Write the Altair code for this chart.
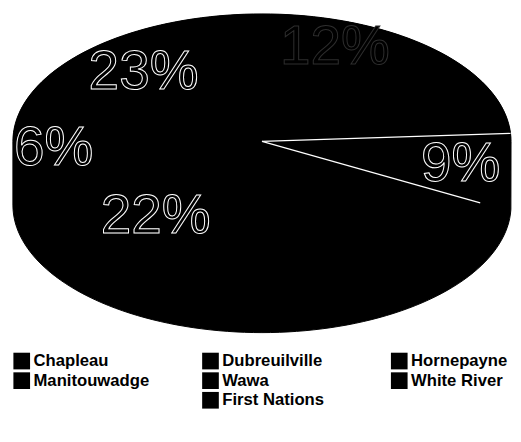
import altair as alt
import pandas as pd

# ---- data ----
categories = ["Chapleau", "Dubreuilville", "Hornepayne", "Manitouwadge",
              "Wawa", "White River", "First Nations"]
percents = [12, 12, 9, 16, 22, 6, 23]

# ---- styles ----
SLICE_COLORS = ["#000000"] * 7
LABEL_OUTLINE = ["#2e2e2e", "#000000", "#ffffff", "#000000", "#ffffff", "#ffffff", "#ffffff"]
HIDDEN_LABELS = ["Dubreuilville", "Manitouwadge"]  # black-on-black in the scan
DEPTH = 0.5  # 3D depth of the pie in y-units

df = pd.DataFrame({"cat": categories, "pct": percents, "idx": list(range(len(categories)))})

xs = alt.Scale(domain=[-1, 1], nice=False, zero=False)
ys = alt.Scale(domain=[-1 - DEPTH, 1], nice=False, zero=False)
color = alt.Color("cat:N", scale=alt.Scale(domain=categories, range=SLICE_COLORS), legend=None)

base = (
    alt.Chart(df)
    .transform_window(cum="sum(pct)", sort=[alt.SortField("idx")], frame=[None, 0])
    .transform_calculate(
        start="(datum.cum - datum.pct) / 100 * 2 * PI",
        end="datum.cum / 100 * 2 * PI",
    )
)

# silhouette of the 3D pie (top face + side depth)
silhouette = (
    alt.Chart(alt.sequence(-90, 272, 2, as_="t"))
    .transform_calculate(
        tr="datum.t * PI / 180",
        x="sin(datum.tr)",
        y=f"datum.t <= 90 ? cos(datum.tr) : cos(datum.tr) - {DEPTH}",
    )
    .mark_line(interpolate="linear-closed", fill="black", stroke="black", strokeWidth=1)
    .encode(
        x=alt.X("x:Q", scale=xs, axis=None),
        y=alt.Y("y:Q", scale=ys, axis=None),
        order="t:Q",
    )
)

slices = (
    base.transform_calculate(pts="sequence(0, 42)")
    .transform_flatten(["pts"])
    .transform_calculate(
        a="datum.start + (datum.end - datum.start) * min(datum.pts, 40) / 40",
        x="datum.pts > 40 ? 0 : sin(datum.a)",
        y="datum.pts > 40 ? 0 : cos(datum.a)",
    )
    .mark_line(interpolate="linear-closed", filled=True, strokeWidth=0)
    .encode(
        x=alt.X("x:Q", scale=xs, axis=None),
        y=alt.Y("y:Q", scale=ys, axis=None),
        detail="cat:N",
        order="pts:Q",
        color=color,
    )
)

edges = (
    base.transform_filter(alt.datum.cat == "Hornepayne")
    .transform_fold(["start", "end"], as_=["edge", "ang"])
    .transform_calculate(ex="sin(datum.ang)", ey="cos(datum.ang)", zero="0")
    .mark_rule(color="white", strokeWidth=1.2)
    .encode(
        x=alt.X("zero:Q", scale=xs, axis=None),
        y=alt.Y("zero:Q", scale=ys, axis=None),
        x2="ex:Q",
        y2="ey:Q",
    )
)

labels = (
    base.transform_calculate(
        m="(datum.start + datum.end) / 2",
        r="0.88 - 0.007 * datum.pct",
        lx="datum.r * sin(datum.m)",
        ly="datum.r * cos(datum.m)",
        lab="datum.pct + '%'",
    )
    .mark_text(font="Liberation Sans", fontSize=56, fill="black", strokeWidth=1,
               align="center", baseline="middle")
    .encode(
        x=alt.X("lx:Q", scale=xs, axis=None),
        y=alt.Y("ly:Q", scale=ys, axis=None),
        text="lab:N",
        stroke=alt.Stroke("cat:N", scale=alt.Scale(domain=categories, range=LABEL_OUTLINE), legend=None),
        opacity=alt.condition(
            alt.FieldOneOfPredicate(field="cat", oneOf=HIDDEN_LABELS),
            alt.value(0), alt.value(1)),
    )
)

pie = alt.layer(silhouette, slices, edges, labels).properties(width=508, height=325)

# custom legend (3 columns, last row centred)
leg_base = alt.Chart(df).transform_calculate(
    col="datum.idx >= 6 ? 1 : datum.idx % 3",
    row="floor(datum.idx / 3)",
)
lx = alt.Scale(domain=[-9 / 192.5, (508 - 9) / 192.5], nice=False, zero=False)
ly = alt.Scale(domain=[-1, 2.6], nice=False, zero=False, reverse=True)

squares = leg_base.mark_square(size=289, opacity=1).encode(
    x=alt.X("col:Q", scale=lx, axis=None),
    y=alt.Y("row:Q", scale=ly, axis=None),
    color=color,
)
names = leg_base.mark_text(align="left", baseline="middle", dx=12, font="Liberation Sans",
                           fontSize=17, fontWeight="bold", color="black").encode(
    x=alt.X("col:Q", scale=lx, axis=None),
    y=alt.Y("row:Q", scale=ly, axis=None),
    text="cat:N",
)
legend = alt.layer(squares, names).properties(width=508, height=72)

chart = (
    alt.vconcat(pie, legend, spacing=7)
    .properties(padding={"left": 3, "top": 0, "right": 0, "bottom": 0})
    .configure_view(stroke=None)
)

chart.save("out.html", embed_options={"renderer": "svg", "actions": False})
